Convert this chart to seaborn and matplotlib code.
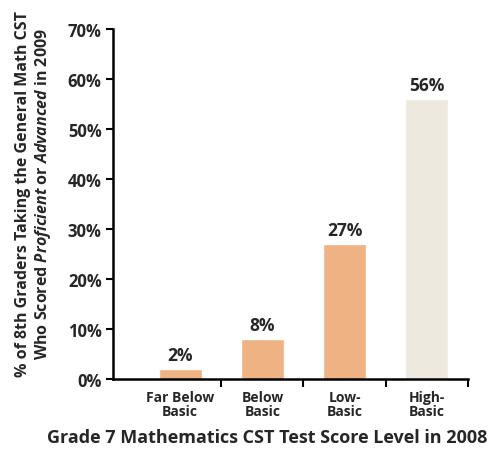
import numpy as np
import pandas as pd
import matplotlib
matplotlib.use('Agg')
import matplotlib.pyplot as plt
import seaborn as sns

# data
levels = ['Far Below\nBasic', 'Below\nBasic', 'Low-\nBasic', 'High-\nBasic']
pct = [2, 8, 27, 56]
colors = ['#EFB282', '#EFB282', '#EFB282', '#EDE9DF']
yticks = [0, 10, 20, 30, 40, 50, 60, 70]

df = pd.DataFrame({'level': levels, 'pct': pct})

sns.set_style('white')
plt.rcParams['font.family'] = ['Open Sans', 'DejaVu Sans']
plt.rcParams['font.weight'] = 'bold'
plt.rcParams['mathtext.fontset'] = 'custom'
plt.rcParams['mathtext.it'] = 'Open Sans:italic:bold'
plt.rcParams['mathtext.rm'] = 'Open Sans:bold'

fig = plt.figure(figsize=(4.95, 4.52), dpi=100)
ax = fig.add_axes([0.228, 0.159, 0.717, 0.775])

sns.barplot(data=df, x='level', y='pct', hue='level', palette=colors,
            legend=False, width=0.52, saturation=1, ax=ax)

#value labels above bars
for i, v in enumerate(pct):
    ax.text(i, v + 1.0, f'{v}%', ha='center', va='bottom', fontsize=12.5,
            fontweight='bold')

ax.set_ylim(0, 70)
ax.set_xlim(-0.82, 3.5)
ax.set_yticks(yticks)
ax.set_yticklabels([f'{t}%' for t in yticks], fontsize=12, fontweight='bold')

# ticks at the category boundaries, labels under the bars
ax.set_xticks([0.5, 1.5, 2.5, 3.5])
ax.set_xticklabels([])
ax.set_xticks(range(len(levels)), minor=True)
ax.set_xticklabels(levels, minor=True, fontsize=10, fontweight='bold',
                   linespacing=0.95)
ax.tick_params(axis='x', which='minor', bottom=False, length=0, pad=8)
ax.tick_params(axis='x', which='major', bottom=True, length=6, width=1.5,
               direction='out', color='black')
ax.tick_params(axis='y', left=True, length=5, width=1.5, direction='out',
               pad=3, color='black')

for s in ['top', 'right']:
    ax.spines[s].set_visible(False)
for s in ['left', 'bottom']:
    ax.spines[s].set_linewidth(1.8)
    ax.spines[s].set_color('black')

ax.set_xlabel('Grade 7 Mathematics CST Test Score Level in 2008',
              fontsize=13, fontweight='bold')
ax.xaxis.set_label_coords(0.435, -0.14)
ax.set_ylabel('% of 8th Graders Taking the General Math CST\n'
              r'Who Scored $\it{Proficient}$ or $\it{Advanced}$ in 2009',
              fontsize=11.5, fontweight='bold', linespacing=1.1)
ax.yaxis.set_label_coords(-0.17, 0.53)

plt.savefig('out.png', dpi=100)
